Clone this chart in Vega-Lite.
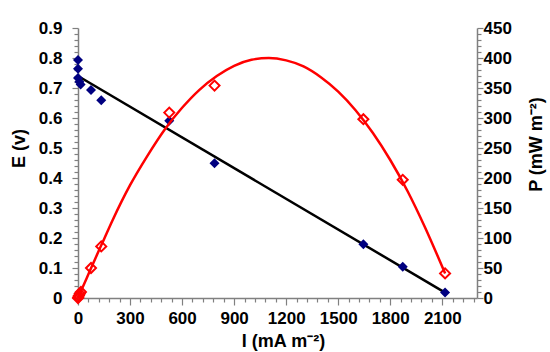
{
  "$schema": "https://vega.github.io/schema/vega-lite/v6.json",
  "width": 399,
  "height": 270,
  "autosize": {"type": "none"},
  "padding": {"left": 78, "top": 28, "right": 73, "bottom": 54},
  "background": "white",
  "config": {
    "view": {"stroke": null},
    "font": "Liberation Sans",
    "axis": {
      "grid": false,
      "domainColor": "#808080",
      "domainWidth": 1.5,
      "tickColor": "#808080",
      "tickWidth": 1.2,
      "labelFont": "Liberation Sans",
      "labelFontWeight": "bold",
      "labelFontSize": 17,
      "labelColor": "black",
      "titleFont": "Liberation Sans",
      "titleFontWeight": "bold",
      "titleFontSize": 18,
      "titleColor": "black"
    }
  },
  "datasets": {
    "E": [
      {"I": 0, "E": 0.793},
      {"I": 0, "E": 0.764},
      {"I": 0, "E": 0.733},
      {"I": 8, "E": 0.721},
      {"I": 15, "E": 0.712},
      {"I": 75, "E": 0.693},
      {"I": 134, "E": 0.659},
      {"I": 526, "E": 0.591},
      {"I": 787, "E": 0.449},
      {"I": 1645, "E": 0.179},
      {"I": 1872, "E": 0.104},
      {"I": 2116, "E": 0.018}
    ],
    "Efit": [
      {"I": 0, "E": 0.74},
      {"I": 2116, "E": 0.018}
    ],
    "P": [
      {"I": 0, "P": 0},
      {"I": 2, "P": 1.5},
      {"I": 5, "P": 4},
      {"I": 10, "P": 7},
      {"I": 17, "P": 10},
      {"I": 75, "P": 50},
      {"I": 134, "P": 86},
      {"I": 526, "P": 309},
      {"I": 787, "P": 354},
      {"I": 1645, "P": 298},
      {"I": 1872, "P": 197},
      {"I": 2116, "P": 41}
    ],
    "Pfit": [
      {"I": 0, "P": 0},
      {"I": 50, "P": 33},
      {"I": 100, "P": 66},
      {"I": 150, "P": 98},
      {"I": 200, "P": 130},
      {"I": 300, "P": 188},
      {"I": 400, "P": 237},
      {"I": 500, "P": 281},
      {"I": 600, "P": 317},
      {"I": 700, "P": 347},
      {"I": 800, "P": 370},
      {"I": 900, "P": 387},
      {"I": 1000, "P": 397},
      {"I": 1100, "P": 400},
      {"I": 1200, "P": 396},
      {"I": 1300, "P": 386},
      {"I": 1400, "P": 368},
      {"I": 1500, "P": 344},
      {"I": 1600, "P": 313},
      {"I": 1700, "P": 275},
      {"I": 1800, "P": 230},
      {"I": 1900, "P": 178},
      {"I": 2000, "P": 118},
      {"I": 2116, "P": 41}
    ]
  },
  "layer": [
    {
      "layer": [
        {
          "data": {"name": "Efit"},
          "mark": {"type": "line", "color": "black", "strokeWidth": 2.5},
          "encoding": {
            "x": {
              "field": "I", "type": "quantitative",
              "scale": {"domain": [0, 2300], "nice": false, "zero": false},
              "axis": {
                "title": "I (mA m⁻²)",
                "titleX": 205,
                "titleY": 43,
                "titleAlign": "center",
                "titleBaseline": "middle",
                "values": [0,60,120,180,240,300,360,420,480,540,600,660,720,780,840,900,960,1020,1080,1140,1200,1260,1320,1380,1440,1500,1560,1620,1680,1740,1800,1860,1920,1980,2040,2100,2160,2220,2280],
                "tickCount": 500,
                "labelExpr": "datum.value % 300 === 0 ? format(datum.value, 'd') : ''",
                "labelOverlap": false,
                "labelFlush": false,
                "tickSize": {"condition": {"test": "datum.value % 300 === 0", "value": 7}, "value": 4},
                "labelPadding": 5
              }
            },
            "y": {
              "field": "E", "type": "quantitative",
              "scale": {"domain": [0, 0.9], "nice": false, "zero": false},
              "axis": {
                "orient": "left",
                "title": "E (v)",
                "titleX": -59,
                "titleY": 120,
                "titleAlign": "center",
                "titleBaseline": "middle",
                "values": [0,0.02,0.04,0.06,0.08,0.1,0.12,0.14,0.16,0.18,0.2,0.22,0.24,0.26,0.28,0.3,0.32,0.34,0.36,0.38,0.4,0.42,0.44,0.46,0.48,0.5,0.52,0.54,0.56,0.58,0.6,0.62,0.64,0.66,0.68,0.7,0.72,0.74,0.76,0.78,0.8,0.82,0.84,0.86,0.88,0.9],
                "tickCount": 500,
                "labelExpr": "abs(round(datum.value*10) - datum.value*10) < 0.001 ? format(datum.value, '.1~f') : ''",
                "labelOverlap": false,
                "labelFlush": false,
                "tickSize": {"condition": {"test": "abs(round(datum.value*10) - datum.value*10) < 0.001", "value": 6}, "value": 4},
                "labelPadding": 10
              }
            }
          }
        },
        {
          "data": {"name": "E"},
          "mark": {"type": "point", "shape": "diamond", "filled": true, "color": "#000080", "size": 100, "opacity": 1},
          "encoding": {
            "x": {"field": "I", "type": "quantitative"},
            "y": {"field": "E", "type": "quantitative"}
          }
        }
      ]
    },
    {
      "layer": [
        {
          "data": {"name": "Pfit"},
          "mark": {"type": "line", "color": "#FF0000", "strokeWidth": 2.5, "interpolate": "monotone"},
          "encoding": {
            "x": {"field": "I", "type": "quantitative"},
            "y": {
              "field": "P", "type": "quantitative",
              "scale": {"domain": [0, 450], "nice": false, "zero": false},
              "axis": {
                "orient": "right",
                "title": "P (mW m⁻²)",
                "titleAngle": 270,
                "titleX": 59,
                "titleY": 116,
                "titleAlign": "center",
                "titleBaseline": "middle",
                "values": [0,10,20,30,40,50,60,70,80,90,100,110,120,130,140,150,160,170,180,190,200,210,220,230,240,250,260,270,280,290,300,310,320,330,340,350,360,370,380,390,400,410,420,430,440,450],
                "tickCount": 500,
                "labelExpr": "datum.value % 50 === 0 ? format(datum.value, 'd') : ''",
                "labelOverlap": false,
                "labelFlush": false,
                "tickSize": {"condition": {"test": "datum.value % 50 === 0", "value": 6}, "value": 4},
                "labelPadding": 0
              }
            }
          }
        },
        {
          "data": {"name": "P"},
          "mark": {"type": "point", "shape": "diamond", "filled": false, "color": "#FF0000", "size": 100, "strokeWidth": 2, "opacity": 1},
          "encoding": {
            "x": {"field": "I", "type": "quantitative"},
            "y": {"field": "P", "type": "quantitative"}
          }
        }
      ]
    }
  ],
  "resolve": {"scale": {"y": "independent"}}
}
